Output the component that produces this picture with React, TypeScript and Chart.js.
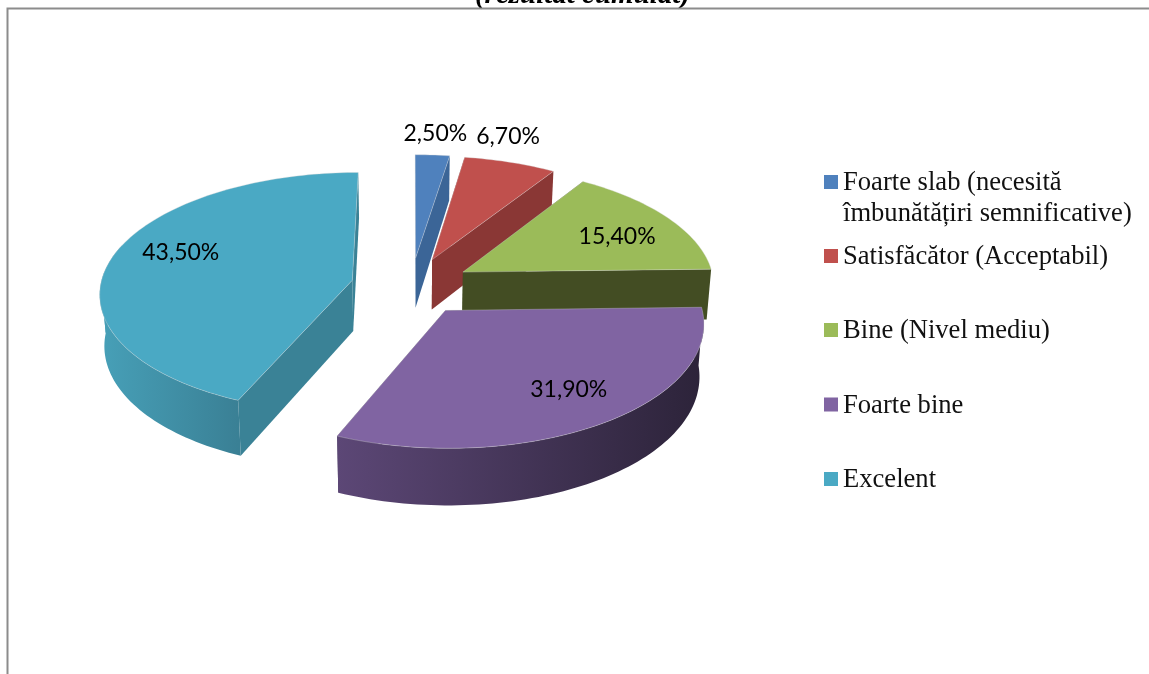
import React, { useEffect, useRef } from "react";
import { Chart, registerables } from "chart.js";

Chart.register(...registerables);

const categories = [
  "Foarte slab (necesită\nîmbunătățiri semnificative)",
  "Satisfăcător (Acceptabil)",
  "Bine (Nivel mediu)",
  "Foarte bine",
  "Excelent",
];
const shares = [2.5, 6.7, 15.4, 31.9, 43.5];
const valueLabels = ["2,50%", "6,70%", "15,40%", "31,90%", "43,50%"];
const titleText = "(rezultat cumulat)";

const faceColors = ["#4f81bd", "#c0504d", "#9bbb59", "#8064a2", "#4aa9c4"];
const wallColors = ["#3b6597", "#8a3735", "#434d23", "#43355a", "#3a8296"];
const rimFrom = ["#3b6597", "#8c3a38", "#3f4821", "#5c4776", "#47a0b8"];
const rimTo = ["#3b6597", "#8a3735", "#3a421e", "#2c2339", "#3a8095"];

// back-to-front painting order
const paintOrder = [0, 1, 2, 4, 3];

// view of the tilted disc
const VIEW = { rx: 252, ry: 121, persp: 0.1, depth: 51, floorShrink: 0.985 };
const labelPlace = [
  { f: 1.2, dx: 0, dy: -4 },
  { f: 1.25, dx: -19, dy: -5 },
  { f: 0.75, dx: -1, dy: 6 },
  { f: 0.78, dx: 2, dy: -7 },
  { f: 0.7, dx: -3, dy: -11 },
];
const legendLayout = { swatchX: 824, textX: 843, swatch: 14, baselines: [190, 264, 338, 412.5, 487], lineHeight: 31 };

const pie3d = {
  id: "pie3d",
  beforeDatasetDraw(chart: any) {
    const { ctx } = chart;
    const arcs = chart.getDatasetMeta(0).data;

    const project = (cx: number, cy: number, U: number, V: number, drop = 0) => {
      const s = 1 + VIEW.persp * V;
      const shrink = drop ? VIEW.floorShrink : 1;
      return { x: cx + VIEW.rx * U * s * shrink, y: cy + VIEW.ry * V * s + drop * s };
    };

    paintOrder.forEach((i) => {
      const arc = arcs[i];
      const { x: cx, y: cy, startAngle: a0, endAngle: a1, outerRadius: r } = arc;
      const e = (arc.options.offset || 0) / r;
      const mid = (a0 + a1) / 2;
      const ax = e * Math.cos(mid);
      const ay = e * Math.sin(mid);
      const n = Math.max(4, Math.ceil((a1 - a0) * 40));
      const top: { x: number; y: number }[] = [];
      const bot: { x: number; y: number }[] = [];
      const angles: number[] = [];
      for (let k = 0; k <= n; k++) {
        const a = a0 + ((a1 - a0) * k) / n;
        const U = ax + Math.cos(a);
        const V = ay + Math.sin(a);
        angles.push(a);
        top.push(project(cx, cy, U, V));
        bot.push(project(cx, cy, U, V, VIEW.depth));
      }
      const apexT = project(cx, cy, ax, ay);
      const apexB = project(cx, cy, ax, ay, VIEW.depth);

      const poly = (pts: { x: number; y: number }[], fill: any) => {
        ctx.beginPath();
        pts.forEach((p, j) => (j ? ctx.lineTo(p.x, p.y) : ctx.moveTo(p.x, p.y)));
        ctx.closePath();
        ctx.fillStyle = fill;
        ctx.fill();
      };

      ctx.save();
      // radial walls
      poly([apexT, top[0], bot[0], apexB], wallColors[i]);
      poly([apexT, top[n], bot[n], apexB], wallColors[i]);

      // rim wall, shaded left to right: the front part, then the short part turning
      // away behind the silhouette (kept apart so the two cannot cancel when filled)
      const isFront = (_: unknown, k: number) => Math.sin(angles[k]) >= 0;
      const isTurning = (_: unknown, k: number) => Math.sin(angles[k]) < 0.02 && Math.sin(angles[k]) > -0.3;
      const frontTop = top.filter(isFront);
      if (frontTop.length > 1) {
        const xs = frontTop.map((p) => p.x);
        const grad = ctx.createLinearGradient(Math.min(...xs), 0, Math.max(...xs), 0);
        grad.addColorStop(0, rimFrom[i]);
        grad.addColorStop(1, rimTo[i]);
        const turnTop = top.filter(isTurning);
        const turnBot = bot.filter(isTurning);
        if (turnTop.length > 1) poly([...turnTop, ...turnBot.reverse()], grad);
        poly([...frontTop, ...bot.filter(isFront).reverse()], grad);
      }

      // upper face
      ctx.beginPath();
      ctx.moveTo(apexT.x, apexT.y);
      top.forEach((p) => ctx.lineTo(p.x, p.y));
      ctx.closePath();
      ctx.fillStyle = arc.options.backgroundColor;
      ctx.fill();
      ctx.strokeStyle = "rgba(215,215,215,0.35)";
      ctx.lineWidth = 1;
      ctx.stroke();
      ctx.restore();
    });
    return false;
  },
  afterDatasetsDraw(chart: any) {
    const { ctx } = chart;
    const arcs = chart.getDatasetMeta(0).data;
    ctx.save();

    // value labels
    ctx.font = '23px Lato, "Open Sans", sans-serif';
    ctx.fillStyle = "#000";
    ctx.textAlign = "center";
    ctx.textBaseline = "middle";
    arcs.forEach((arc: any, i: number) => {
      const { x: cx, y: cy, startAngle: a0, endAngle: a1, outerRadius: r } = arc;
      const e = (arc.options.offset || 0) / r;
      const mid = (a0 + a1) / 2;
      const { f, dx, dy } = labelPlace[i];
      const U = (e + f) * Math.cos(mid);
      const V = (e + f) * Math.sin(mid);
      const s = 1 + VIEW.persp * V;
      ctx.fillText(valueLabels[i], cx + VIEW.rx * U * s + dx, cy + VIEW.ry * V * s + dy);
    });

    // legend
    const L = legendLayout;
    ctx.textAlign = "left";
    ctx.textBaseline = "alphabetic";
    ctx.font = '26.6px "Liberation Serif", serif';
    categories.forEach((cat, i) => {
      ctx.fillStyle = faceColors[i];
      ctx.fillRect(L.swatchX, L.baselines[i] - 15, L.swatch, L.swatch);
      ctx.fillStyle = "#111";
      cat.split("\n").forEach((line, j) => {
        ctx.fillText(line, L.textX, L.baselines[i] + j * L.lineHeight);
      });
    });

    // title, cut by the top of the page
    ctx.font = 'italic bold 29px "Liberation Serif", serif';
    ctx.fillStyle = "#000";
    ctx.textAlign = "center";
    ctx.fillText(titleText, 582.5, 3);

    // frame
    ctx.strokeStyle = "#8c8c8c";
    ctx.lineWidth = 2;
    ctx.beginPath();
    ctx.moveTo(7.5, 674);
    ctx.lineTo(7.5, 8.5);
    ctx.lineTo(1149, 8.5);
    ctx.stroke();
    ctx.restore();
  },
};

export default function App() {
  const ref = useRef<HTMLCanvasElement | null>(null);
  useEffect(() => {
    if (!ref.current) return;
    const chart = new Chart(ref.current, {
      type: "pie",
      data: {
        labels: categories,
        datasets: [
          {
            data: shares,
            backgroundColor: faceColors,
            borderWidth: 0,
            offset: 61,
          },
        ],
      },
      options: {
        animation: false,
        responsive: false,
        layout: { padding: { left: 125, right: 452, top: 0, bottom: 102 } },
        plugins: { legend: { display: false }, tooltip: { enabled: false }, title: { display: false } },
      },
      plugins: [pie3d],
    } as any);
    return () => chart.destroy();
  }, []);
  return (
    <div style={{ position: "fixed", left: 0, top: 0, width: 1149, height: 674, background: "#fff", overflow: "hidden" }}>
      <canvas ref={ref} width={1149} height={674} style={{ display: "block" }} />
    </div>
  );
}
